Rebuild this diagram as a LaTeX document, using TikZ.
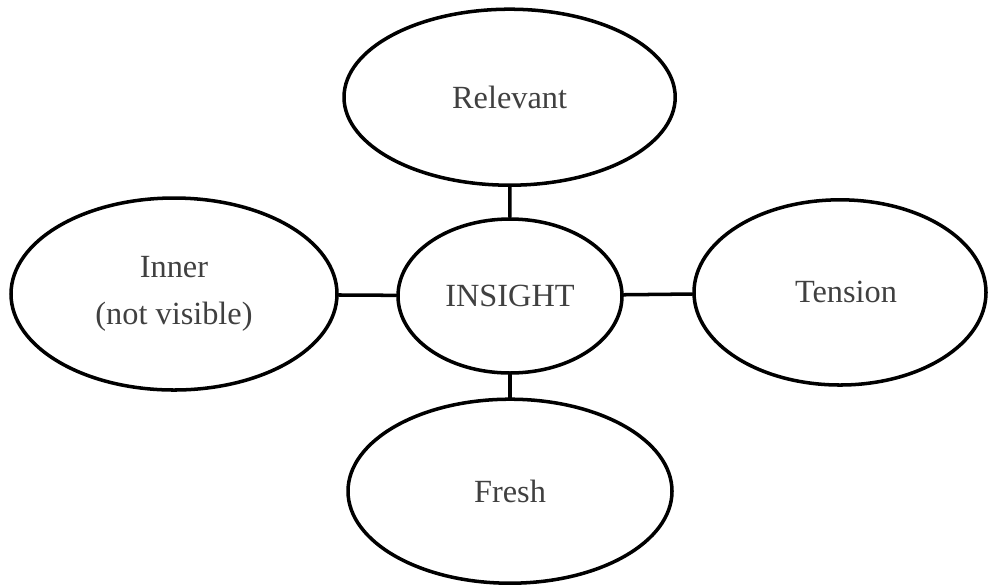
\documentclass[tikz,border=0pt]{standalone}
\usepackage{fontspec}
\setmainfont{Liberation Serif}
\usetikzlibrary{shapes.geometric}
\begin{document}
\begin{tikzpicture}[line join=round, line cap=round,
 bubble/.style={ellipse, draw=black, line width=2.5pt, inner sep=0pt,
  text=black!75, align=center, font=\fontsize{23}{33}\selectfont},
 link/.style={line width=2.5pt, black}]
 \useasboundingbox (0,0) rectangle (24.775,-14.65);
 \node[bubble, minimum width=8.28cm, minimum height=4.4cm] (rel) at (12.74,-2.43) {Relevant};
 \node[bubble, minimum width=5.6cm, minimum height=3.85cm] (ins) at (12.75,-7.4) {INSIGHT};
 \node[bubble, minimum width=8.15cm, minimum height=4.8cm] (inn) at (4.35,-7.35) {Inner\\(not visible)};
 \node[bubble, minimum width=7.3cm, minimum height=4.63cm] (ten) at (21.0,-7.31) {\hspace*{0.3cm}Tension};
 \node[bubble, minimum width=8.1cm, minimum height=4.6cm] (fre) at (12.75,-12.28) {Fresh};
 \draw[link] (rel) -- (ins);
 \draw[link] (ins) -- (fre);
 \draw[link] (inn) -- (ins);
 \draw[link] (ins) -- (ten);
\end{tikzpicture}
\end{document}
